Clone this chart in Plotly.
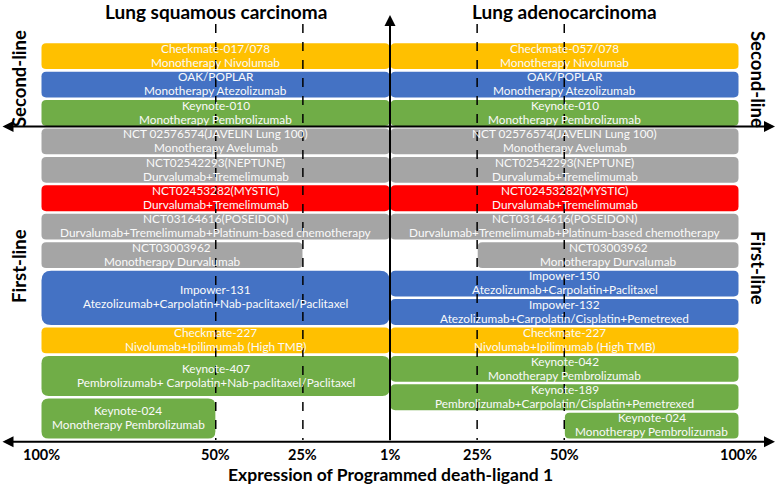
import plotly.graph_objects as go

# ---------------- data ----------------
# Lung squamous carcinoma (left side, PD-L1 increases to the left)
left_trials = ["Checkmate-017/078", "OAK/POPLAR", "Keynote-010",
               "NCT 02576574(JAVELIN Lung 100)", "NCT02542293(NEPTUNE)",
               "NCT02453282(MYSTIC)", "NCT03164616(POSEIDON)", "NCT03003962",
               "Impower-131", "Checkmate-227", "Keynote-407", "Keynote-024"]
left_regimens = ["Monotherapy Nivolumab", "Monotherapy Atezolizumab", "Monotherapy Pembrolizumab",
                 "Monotherapy Avelumab", "Durvalumab+Tremelimumab",
                 "Durvalumab+Tremelimumab", "Durvalumab+Tremelimumab+Platinum-based chemotherapy",
                 "Monotherapy Durvalumab",
                 "Atezolizumab+Carpolatin+Nab-paclitaxel/Paclitaxel",
                 "Nivolumab+Ipilimumab (High TMB)",
                 "Pembrolizumab+ Carpolatin+Nab-paclitaxel/Paclitaxel",
                 "Monotherapy Pembrolizumab"]
left_agent = ["yellow", "blue", "green", "gray", "gray", "red", "gray", "gray",
              "blue", "yellow", "green", "green"]
left_pdl1_min = [1, 1, 1, 1, 1, 1, 1, 25, 1, 1, 1, 50]
left_row = [0, 1, 2, 3, 4, 5, 6, 7, 8, 10, 11, 12.5]
left_rows_used = [1, 1, 1, 1, 1, 1, 1, 1, 2, 1, 1.5, 1.5]

# Lung adenocarcinoma (right side)
right_trials = ["Checkmate-057/078", "OAK/POPLAR", "Keynote-010",
                "NCT 02576574(JAVELIN Lung 100)", "NCT02542293(NEPTUNE)",
                "NCT02453282(MYSTIC)", "NCT03164616(POSEIDON)", "NCT03003962",
                "Impower-150", "Impower-132", "Checkmate-227", "Keynote-042",
                "Keynote-189", "Keynote-024"]
right_regimens = ["Monotherapy Nivolumab", "Monotherapy Atezolizumab", "Monotherapy Pembrolizumab",
                  "Monotherapy Avelumab", "Durvalumab+Tremelimumab",
                  "Durvalumab+Tremelimumab", "Durvalumab+Tremelimumab+Platinum-based chemotherapy",
                  "Monotherapy Durvalumab",
                  "Atezolizumab+Carpolatin+Paclitaxel",
                  "Atezolizumab+Carpolatin/Cisplatin+Pemetrexed",
                  "Nivolumab+Ipilimumab (High TMB)",
                  "Monotherapy Pembrolizumab",
                  "Pembrolizumab+Carpolatin/Cisplatin+Pemetrexed",
                  "Monotherapy Pembrolizumab"]
right_agent = ["yellow", "blue", "green", "gray", "gray", "red", "gray", "gray",
               "blue", "blue", "yellow", "green", "green", "green"]
right_pdl1_min = [1, 1, 1, 1, 1, 1, 1, 25, 1, 1, 1, 1, 1, 50]
right_row = list(range(14))
right_rows_used = [1] * 14

pdl1_ticks = [100, 50, 25, 1, 25, 50, 100]
tick_side = [-1, -1, -1, 0, 1, 1, 1]
tick_labels = ["100%", "50%", "25%", "1%", "25%", "50%", "100%"]
cutoffs = [50, 25]
second_line_rows = 3
total_rows = 14

colors = {"yellow": "#FFC000", "blue": "#4472C4", "green": "#70AD47",
          "gray": "#A5A5A5", "red": "#FF0000"}

# ---------------- geometry ----------------
W, H = 778, 484
PX_X = 3.485      # pixels per % PD-L1
CX = 390          # pixel of the 1% axis
PX_Y = 28.43      # pixels per row
TOP = 42          # pixel of first row top
FONT = "Lato"


def pos(p, side):
    return 0 if p <= 1 else side * p


def rrect(x0, x1, y0, y1, r_px):
    rx = r_px / PX_X
    ry = r_px / PX_Y
    return (f"M {x0+rx},{y0} L {x1-rx},{y0} Q {x1},{y0} {x1},{y0+ry} "
            f"L {x1},{y1-ry} Q {x1},{y1} {x1-rx},{y1} L {x0+rx},{y1} "
            f"Q {x0},{y1} {x0},{y1-ry} L {x0},{y0+ry} Q {x0},{y0} {x0+rx},{y0} Z")


def py(pixel):
    return (pixel - TOP) / PX_Y


def px(pixel):
    return (pixel - CX) / PX_X


fig = go.Figure()
shapes = []
annotations = []
inset_top = 1.2 / PX_Y
inset_bot = 1.4 / PX_Y
line_off = 7.0 / PX_Y

for side, trials, regs, agents, mins, rows, spans in [
        (-1, left_trials, left_regimens, left_agent, left_pdl1_min, left_row, left_rows_used),
        (1, right_trials, right_regimens, right_agent, right_pdl1_min, right_row, right_rows_used)]:
    for t, rg, a, m, r, s in zip(trials, regs, agents, mins, rows, spans):
        xa = pos(m, side)
        xb = pos(100, side)
        x0, x1 = min(xa, xb), max(xa, xb)
        if side == -1:
            x1 -= 0.4 / PX_X
        else:
            x0 += 0.6 / PX_X
        y0 = r + inset_top
        y1 = r + s - inset_bot
        hpx = (y1 - y0) * PX_Y
        shapes.append(dict(type="path", path=rrect(x0, x1, y0, y1, 0.18 * hpx),
                           fillcolor=colors[a], line=dict(width=0), layer="below"))
        yc = (y0 + y1) / 2 - 0.8 / PX_Y
        for txt, yy in ((t, yc - line_off), (rg, yc + line_off)):
            annotations.append(dict(x=(x0 + x1) / 2, y=yy, xref="x", yref="y",
                                    text=txt, showarrow=False, borderpad=0,
                                    font=dict(family=FONT, size=11.8, color="#FAFAFA")))

# dashed cut-off lines
for side in (-1, 1):
    for c in cutoffs:
        shapes.append(dict(type="line", x0=pos(c, side), x1=pos(c, side),
                           y0=py(24), y1=total_rows, xref="x", yref="y",
                           line=dict(color="black", width=1.5, dash="dash"), layer="above"))

# axes with arrows
arrow_common = dict(xref="x", yref="y", axref="x", ayref="y", text="", showarrow=True,
                    arrowhead=2, arrowsize=1.1, arrowwidth=2, arrowcolor="black")
for yy in (second_line_rows - 0.03, total_rows + 0.06):
    annotations.append(dict(x=px(775), y=yy, ax=px(1), ay=yy, arrowside="end+start",
                            startarrowhead=2, startarrowsize=1.1, **arrow_common))
annotations.append(dict(x=0, y=py(15), ax=0, ay=total_rows + 0.06, arrowside="end",
                        **arrow_common))

# tick labels
for p, sd, lab in zip(pdl1_ticks, tick_side, tick_labels):
    annotations.append(dict(x=pos(p, sd), y=py(454), xref="x", yref="y", text=f"<b>{lab}</b>",
                            showarrow=False, borderpad=0,
                            font=dict(family=FONT, size=14.5, color="black")))

# titles
bold = dict(family=FONT, size=19, color="black")
side_font = dict(family=FONT, size=18.5, color="black")
annotations += [
    dict(x=-50, y=py(11), xref="x", yref="y", text="<b>Lung squamous carcinoma</b>",
         showarrow=False, font=bold),
    dict(x=50, y=py(11), xref="x", yref="y", text="<b>Lung adenocarcinoma</b>",
         showarrow=False, font=bold),
    dict(x=0, y=py(474), xref="x", yref="y", text="<b>Expression of Programmed death-ligand 1</b>",
         showarrow=False, borderpad=0, font=dict(family=FONT, size=17.5, color="black")),
    dict(x=px(19), y=py(79), xref="x", yref="y", text="<b>Second-line</b>", textangle=-90,
         showarrow=False, font=side_font),
    dict(x=px(19), y=py(266), xref="x", yref="y", text="<b>First-line</b>", textangle=-90,
         showarrow=False, font=side_font),
    dict(x=px(758), y=py(79), xref="x", yref="y", text="<b>Second-line</b>", textangle=90,
         showarrow=False, font=side_font),
    dict(x=px(758), y=py(268), xref="x", yref="y", text="<b>First-line</b>", textangle=90,
         showarrow=False, font=side_font),
]

fig.update_layout(
    width=W, height=H, autosize=False,
    margin=dict(l=0, r=0, t=0, b=0),
    paper_bgcolor="white", plot_bgcolor="white",
    xaxis=dict(range=[px(0), px(W)], visible=False, fixedrange=True),
    yaxis=dict(range=[py(H), py(0)], visible=False, fixedrange=True),
    shapes=shapes, annotations=annotations, showlegend=False,
)

fig.write_html("out.html", config={"displayModeBar": False},
               post_script="document.body.style.margin='0px';document.body.style.overflow='hidden';")
